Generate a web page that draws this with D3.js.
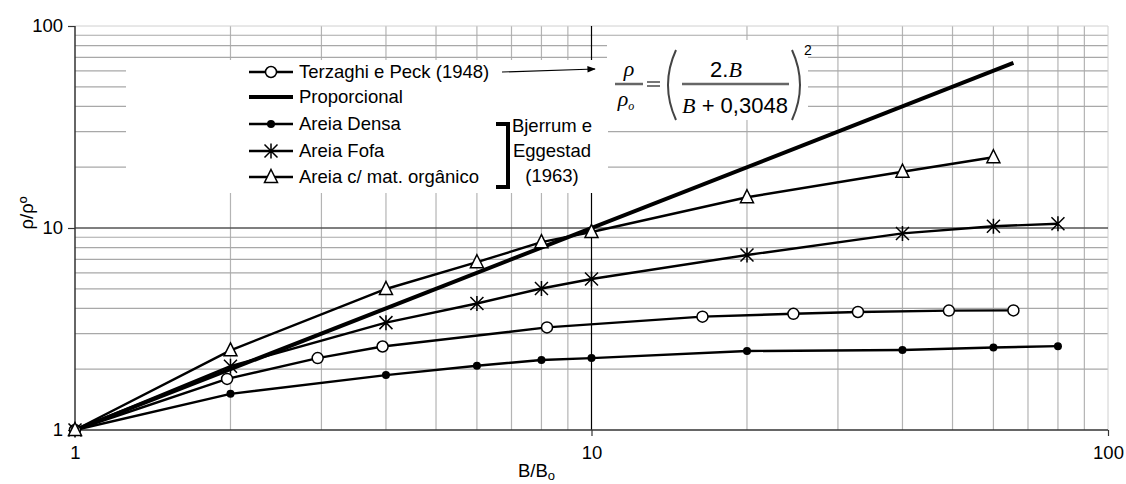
<!DOCTYPE html>
<html><head><meta charset="utf-8">
<script src="https://cdn.jsdelivr.net/npm/d3@7"></script>
<style>
body{margin:0;background:#fff}
svg text{font-family:"Liberation Sans",Arial,sans-serif;fill:#000}
</style>
</head><body>
<svg id="c" width="1126" height="484"></svg>
<script>
// ---- data ----
const xTickValues = [1, 10, 100];
const yTickValues = [1, 10, 100];

const seriesNames = ["Terzaghi e Peck (1948)", "Proporcional", "Areia Densa", "Areia Fofa", "Areia c/ mat. orgânico"];

const terzaghiX = [1, 1.97, 2.95, 3.94, 8.2, 16.4, 24.6, 32.8, 49.2, 65.6];
const terzaghiY = [1, 1.79, 2.27, 2.59, 3.22, 3.64, 3.76, 3.84, 3.9, 3.91];

const propX = [1, 65.6];
const propY = [1, 65.6];

const densaX = [1, 2, 4, 6, 8, 10, 20, 40, 60, 80];
const densaY = [1, 1.51, 1.87, 2.08, 2.22, 2.27, 2.46, 2.49, 2.56, 2.6];

const fofaX = [1, 2, 4, 6, 8, 10, 20, 40, 60, 80];
const fofaY = [1, 2.07, 3.4, 4.23, 5.02, 5.59, 7.35, 9.4, 10.2, 10.5];

const organicoX = [1, 2, 4, 6, 8, 10, 20, 40, 60];
const organicoY = [1, 2.48, 4.99, 6.77, 8.51, 9.55, 14.2, 19.0, 22.4];

const bracketLines = ["Bjerrum e", "Eggestad", "(1963)"];

// ---- chart ----
const svg = d3.select("#c");
const FS = 18.5;
const x = d3.scaleLog().domain([1, 100]).range([75, 1108]);
const y = d3.scaleLog().domain([1, 100]).range([430, 26]);

svg.append("rect").attr("width", 1126).attr("height", 484).attr("fill", "#fff");

const minors = [];
[1, 10].forEach(d => { for (let k = 2; k <= 9; k++) minors.push(d * k); });

const grid = svg.append("g");
grid.selectAll(".vm").data(minors).enter().append("line")
  .attr("x1", d => x(d)).attr("x2", d => x(d)).attr("y1", y(100)).attr("y2", y(1))
  .attr("stroke", "#b4b4b4").attr("stroke-width", 1.2);
grid.selectAll(".hm").data(minors).enter().append("line")
  .attr("x1", x(1)).attr("x2", x(100)).attr("y1", d => y(d)).attr("y2", d => y(d))
  .attr("stroke", "#a8a8a8").attr("stroke-width", 1.2);
grid.append("line").attr("x1", x(1)).attr("x2", x(100)).attr("y1", y(100)).attr("y2", y(100)).attr("stroke", "#d0d0d0");
grid.append("line").attr("x1", x(100)).attr("x2", x(100)).attr("y1", y(100)).attr("y2", y(1)).attr("stroke", "#d0d0d0");
grid.append("line").attr("x1", x(10)).attr("x2", x(10)).attr("y1", y(100)).attr("y2", y(1)).attr("stroke", "#000").attr("stroke-width", 1.2);
grid.append("line").attr("x1", x(1)).attr("x2", x(100)).attr("y1", y(10)).attr("y2", y(10)).attr("stroke", "#555").attr("stroke-width", 1.5);

// white boxes (legend + formula)
svg.append("rect").attr("x", 126).attr("y", 60).attr("width", 482).attr("height", 133).attr("fill", "#fff");
svg.append("rect").attr("x", 607).attr("y", 40).attr("width", 201).attr("height", 80).attr("fill", "#fff");

// axes
const xAxis = svg.append("g").attr("transform", `translate(0,${y(1)})`)
  .call(d3.axisBottom(x).tickValues(xTickValues).tickFormat(d3.format("d")).tickSize(6).tickPadding(10));
const yAxis = svg.append("g").attr("transform", `translate(${x(1)},0)`)
  .call(d3.axisLeft(y).tickValues(yTickValues).tickFormat(d3.format("d")).tickSize(7).tickPadding(5));
[xAxis, yAxis].forEach(a => {
  a.select(".domain").attr("stroke", "#333").attr("stroke-width", 1.5);
  a.selectAll(".tick line").attr("stroke", "#333").attr("stroke-width", 1.2);
  a.selectAll("text").style("font-size", FS + "px").attr("fill", "#000");
});
xAxis.select(".domain").attr("d", `M${x(1)},0H${x(100)}`);
yAxis.select(".domain").attr("d", `M0,${y(1)}V${y(100)}`);

// axis titles
const xt = svg.append("text").attr("x", 518).attr("y", 477).style("font-size", FS + "px");
xt.append("tspan").text("B/B");
xt.append("tspan").attr("dy", 3).style("font-size", "13px").text("o");
svg.append("text").attr("transform", "translate(33,213) rotate(-90)").attr("text-anchor", "middle")
  .style("font-size", FS + "px").text("ρ/ρº");

// series
const line = d3.line().x(d => x(d[0])).y(d => y(d[1]));
const zip = (a, b) => a.map((v, i) => [v, b[i]]);
const series = [
  {name: seriesNames[0], pts: zip(terzaghiX, terzaghiY), w: 2.4, marker: "open"},
  {name: seriesNames[1], pts: zip(propX, propY), w: 4, marker: null},
  {name: seriesNames[2], pts: zip(densaX, densaY), w: 2.4, marker: "filled"},
  {name: seriesNames[3], pts: zip(fofaX, fofaY), w: 2.4, marker: "star"},
  {name: seriesNames[4], pts: zip(organicoX, organicoY), w: 2.4, marker: "tri"}
];

function drawMarker(g, type, cx, cy) {
  if (type === "open") {
    g.append("circle").attr("cx", cx).attr("cy", cy).attr("r", 5.5).attr("fill", "#fff").attr("stroke", "#000").attr("stroke-width", 1.5);
  } else if (type === "filled") {
    g.append("circle").attr("cx", cx).attr("cy", cy).attr("r", 4).attr("fill", "#000");
  } else if (type === "star") {
    const s = 6.5;
    g.append("path").attr("d", `M${cx - s},${cy - s}L${cx + s},${cy + s}M${cx - s},${cy + s}L${cx + s},${cy - s}M${cx},${cy - s - 1}V${cy + s + 1}`)
      .attr("stroke", "#000").attr("stroke-width", 1.5).attr("fill", "none");
  } else if (type === "tri") {
    const s = 6.5;
    g.append("path").attr("d", `M${cx},${cy - s - 1}L${cx + s},${cy + s - 1}L${cx - s},${cy + s - 1}Z`)
      .attr("fill", "#fff").attr("stroke", "#000").attr("stroke-width", 1.5);
  }
}

const plot = svg.append("g");
series.forEach(s => {
  plot.append("path").attr("d", line(s.pts)).attr("fill", "none").attr("stroke", "#000")
    .attr("stroke-width", s.w).attr("stroke-linejoin", "round");
});
series.forEach(s => {
  if (!s.marker) return;
  s.pts.forEach(p => drawMarker(plot, s.marker, x(p[0]), y(p[1])));
});

// legend
const legRows = [72, 97, 124, 151, 177];
series.forEach((s, i) => {
  const ly = legRows[i];
  svg.append("line").attr("x1", 249).attr("x2", 293).attr("y1", ly).attr("y2", ly)
    .attr("stroke", "#000").attr("stroke-width", s.w);
  if (s.marker) drawMarker(svg, s.marker, 271, ly);
  svg.append("text").attr("x", 299).attr("y", ly).attr("dy", "0.35em").style("font-size", FS + "px").text(s.name);
});

// bracket + text
svg.append("path").attr("d", "M496,124H508V187H496").attr("fill", "none").attr("stroke", "#000").attr("stroke-width", 4);
bracketLines.forEach((t, i) => {
  svg.append("text").attr("x", 552).attr("y", 126 + i * 25).attr("dy", "0.35em").attr("text-anchor", "middle")
    .style("font-size", FS + "px").text(t);
});

// arrow
svg.append("defs").append("marker").attr("id", "ah").attr("viewBox", "0 0 10 10").attr("refX", 9).attr("refY", 5)
  .attr("markerWidth", 8).attr("markerHeight", 7).attr("orient", "auto")
  .append("path").attr("d", "M0,1L10,5L0,9Z").attr("fill", "#000");
svg.append("line").attr("x1", 502).attr("y1", 72).attr("x2", 595).attr("y2", 69)
  .attr("stroke", "#000").attr("stroke-width", 1.2).attr("marker-end", "url(#ah)");

// formula
const fc = "#333";
const f = svg.append("g");
f.append("text").attr("x", 629).attr("y", 76).attr("text-anchor", "middle")
  .style("font-family", "'Liberation Serif',serif").style("font-style", "italic").style("font-size", "22px").attr("fill", fc).text("ρ");
f.append("line").attr("x1", 615).attr("x2", 643).attr("y1", 84).attr("y2", 84).attr("stroke", "#666").attr("stroke-width", 2.5);
const r0 = f.append("text").attr("x", 626).attr("y", 106).attr("text-anchor", "middle")
  .style("font-family", "'Liberation Serif',serif").style("font-style", "italic").style("font-size", "22px").attr("fill", fc);
r0.append("tspan").text("ρ");
r0.append("tspan").attr("dy", 4).style("font-size", "12px").text("o");
f.append("line").attr("x1", 647).attr("x2", 660).attr("y1", 82).attr("y2", 82).attr("stroke", "#777").attr("stroke-width", 2);
f.append("line").attr("x1", 647).attr("x2", 660).attr("y1", 86).attr("y2", 86).attr("stroke", "#777").attr("stroke-width", 2);
f.append("path").attr("d", "M676,50Q660,85 676,120").attr("fill", "none").attr("stroke", "#444").attr("stroke-width", 2);
f.append("path").attr("d", "M792,50Q808,85 792,120").attr("fill", "none").attr("stroke", "#444").attr("stroke-width", 2);
const nu = f.append("text").attr("x", 726).attr("y", 77).attr("text-anchor", "middle").style("font-size", "22px").attr("fill", fc);
nu.append("tspan").text("2.");
nu.append("tspan").style("font-family", "'Liberation Serif',serif").style("font-style", "italic").text("B");
f.append("line").attr("x1", 682).attr("x2", 789).attr("y1", 84).attr("y2", 84).attr("stroke", "#666").attr("stroke-width", 2.5);
const de = f.append("text").attr("x", 735).attr("y", 113).attr("text-anchor", "middle").style("font-size", "22px").attr("fill", fc);
de.append("tspan").style("font-family", "'Liberation Serif',serif").style("font-style", "italic").text("B");
de.append("tspan").text(" + 0,3048");
f.append("text").attr("x", 804).attr("y", 55).style("font-size", "14px").attr("fill", fc).text("2");
</script>
</body></html>
